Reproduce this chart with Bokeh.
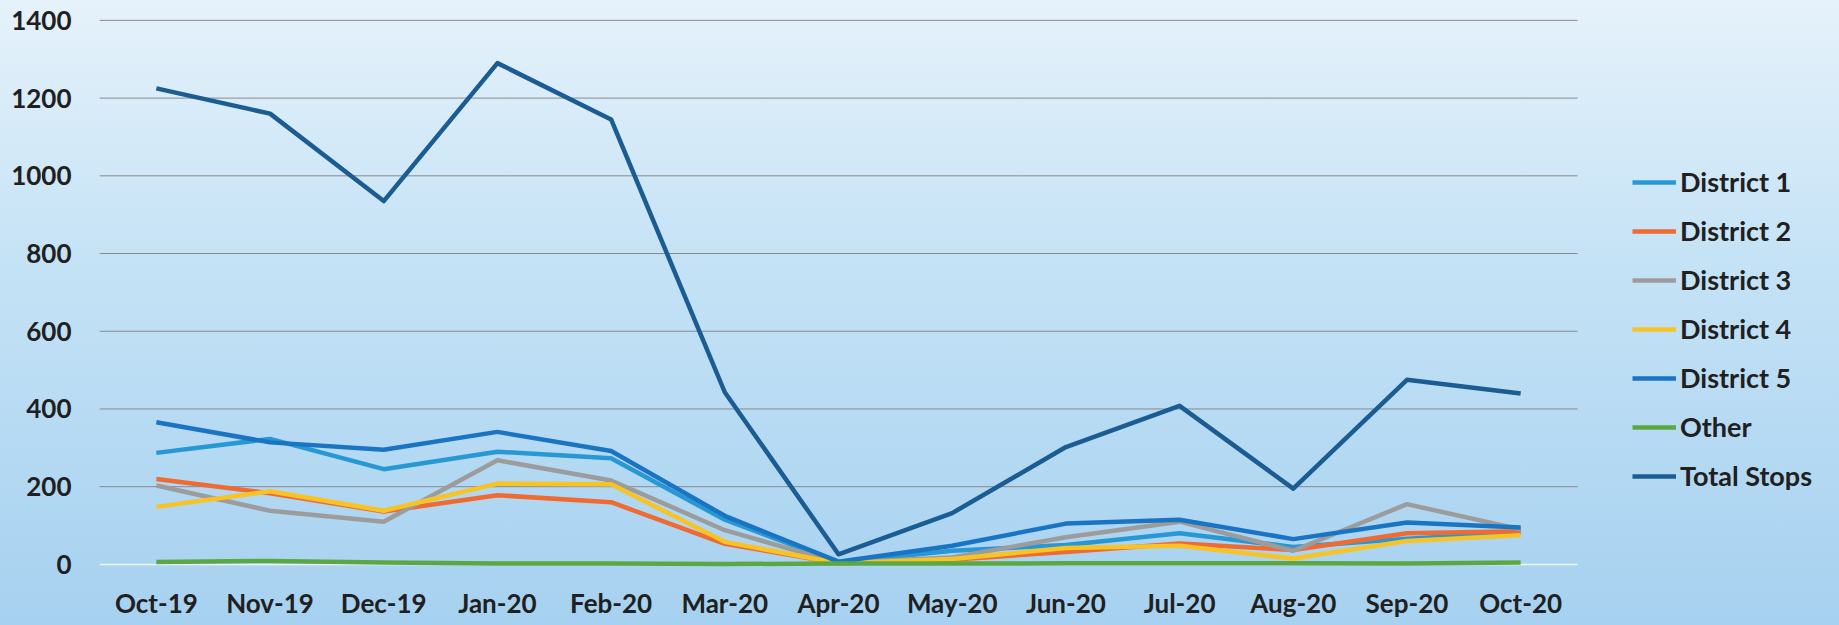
from bokeh.plotting import figure
from bokeh.models import Range1d, Legend, LegendItem, FixedTicker
from bokeh.embed import file_html
from bokeh.resources import INLINE

months = ["Oct-19", "Nov-19", "Dec-19", "Jan-20", "Feb-20", "Mar-20", "Apr-20",
          "May-20", "Jun-20", "Jul-20", "Aug-20", "Sep-20", "Oct-20"]
district1 = [287, 323, 245, 290, 273, 115, 5, 35, 50, 80, 45, 66, 82]
district2 = [220, 183, 136, 178, 160, 53, 3, 12, 32, 54, 37, 80, 85]
district3 = [203, 138, 110, 268, 216, 88, 4, 18, 70, 110, 35, 155, 90]
district4 = [148, 188, 138, 208, 206, 58, 3, 14, 42, 48, 15, 60, 75]
district5 = [366, 314, 295, 341, 292, 125, 7, 48, 105, 115, 65, 108, 95]
other = [6, 9, 5, 2, 2, 1, 2, 2, 3, 3, 3, 2, 5]
total_stops = [1225, 1160, 935, 1290, 1145, 443, 26, 132, 302, 408, 195, 475, 440]
y_ticks = [0, 200, 400, 600, 800, 1000, 1200, 1400]

series = [
    ("District 1", district1, "#2898d5"),
    ("District 2", district2, "#ef6b32"),
    ("District 3", district3, "#9c9c9c"),
    ("District 4", district4, "#f7c325"),
    ("District 5", district5, "#1a74c4"),
    ("Other", other, "#5aa843"),
    ("Total Stops", total_stops, "#1b5c92"),
]

FONT = "Lato"
TEXT = "#202020"

idx = list(range(len(months)))
x_lo = -0.5
x_hi = len(months) - 0.5
# frame spans to the right edge so that the legend area lies inside it
x_end = x_lo + (1839 - 99) / (1478 / len(months))

p = figure(x_range=Range1d(x_lo, x_end),
           y_range=Range1d(-8, 1410),
           width=1839, height=625,
           output_backend="svg", toolbar_location=None,
           min_border_left=99, min_border_right=0,
           min_border_top=16, min_border_bottom=58)

p.border_fill_color = None
p.background_fill_color = None
p.outline_line_color = None
p.styles = {"background": "linear-gradient(to bottom, #e6f2fb 0%, #c6e3f6 40%, #a6d1f0 100%)"}

p.xgrid.grid_line_color = None
p.ygrid.grid_line_color = None

# horizontal gridlines over the category span only
grid_colors = ["#eef5fa" if t == 0 else "#8a8a8a" for t in y_ticks]
p.segment(x0=[x_lo] * len(y_ticks), x1=[x_hi] * len(y_ticks), y0=y_ticks, y1=y_ticks,
          line_color=grid_colors, line_width=[1.5 if t == 0 else 1 for t in y_ticks])

p.yaxis.ticker = FixedTicker(ticks=y_ticks)
p.xaxis.ticker = FixedTicker(ticks=idx)
p.xaxis.major_label_overrides = {i: m for i, m in zip(idx, months)}
for ax in (p.xaxis[0], p.yaxis[0]):
    ax.axis_line_color = None
    ax.major_tick_line_color = None
    ax.minor_tick_line_color = None
    ax.major_tick_out = 0
    ax.major_tick_in = 0
    ax.minor_tick_out = 0
    ax.major_label_text_font = FONT
    ax.major_label_text_font_style = "bold"
    ax.major_label_text_font_size = "26px"
    ax.major_label_text_color = TEXT
p.yaxis.major_label_standoff = 28
p.xaxis.major_label_standoff = 19

items = []
for name, vals, col in series:
    r = p.line(idx, vals, line_color=col, line_width=4.5, line_join="round")
    items.append(LegendItem(label=name, renderers=[r]))

legend = Legend(items=items, location=(1533, 75), orientation="vertical",
                glyph_width=44, glyph_height=30, label_height=30,
                label_standoff=4, spacing=16, padding=0, margin=0,
                border_line_color=None, background_fill_alpha=0,
                label_text_font=FONT, label_text_font_style="bold",
                label_text_font_size="27px", label_text_color=TEXT)
p.add_layout(legend)

open("out.html", "w").write(file_html(p, INLINE))
